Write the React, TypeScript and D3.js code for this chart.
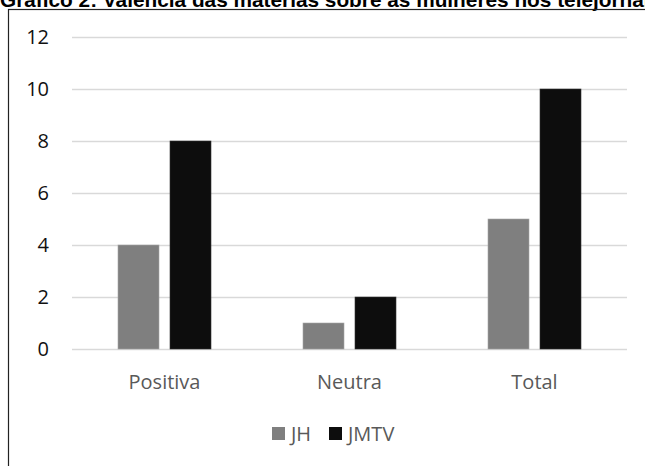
import React from "react";
import * as d3 from "d3";

const categories = ["Positiva", "Neutra", "Total"];
const seriesNames = ["JH", "JMTV"];
const jhValues = [4, 1, 5];
const jmtvValues = [8, 2, 10];
const yTicks = [0, 2, 4, 6, 8, 10, 12];
const title = "Gráfico 2: Valência das matérias sobre as mulheres nos telejornais";

const colors = ["#7f7f7f", "#0d0d0d"];

export default function App() {
  const W = 645, H = 466;
  const x0 = d3.scaleBand().domain(categories).range([72, 627]).paddingInner(0).paddingOuter(0);
  const y = d3.scaleLinear().domain([0, 12]).range([349, 37]);
  const barW = 41, gap = 11;
  const series = [jhValues, jmtvValues];
  const font = "'Open Sans', sans-serif";
  return (
    <svg width={W} height={H} style={{ position: "absolute", left: 0, top: 0, background: "#fff" }}>
      <rect x={0} y={0} width={W} height={H} fill="#fff" />
      <text x={0} y={7} fontFamily="'Liberation Sans', Arial, sans-serif" fontWeight="bold" fontSize={20.8} fill="#000">{title}</text>
      <rect x={8.5} y={9.5} width={700} height={500} fill="none" stroke="#222" strokeWidth={1.2} />
      {yTicks.map(t => (
        <g key={t}>
          <line x1={72} x2={627} y1={y(t) + 0.5} y2={y(t) + 0.5} stroke="#d9d9d9" strokeWidth={1.5} />
          <text x={49} y={y(t)} dy="0.36em" textAnchor="end" fontFamily={font} fontSize={20} fill="#111">{t}</text>
        </g>
      ))}
      {categories.map((c, i) => {
        const cx = (x0(c) as number) + x0.bandwidth() / 2;
        return (
          <g key={c}>
            {series.map((vals, s) => {
              const bx = s === 0 ? cx - gap / 2 - barW : cx + gap / 2;
              return (
                <rect key={s} x={bx} y={y(vals[i])} width={barW} height={y(0) - y(vals[i])}
                  fill={colors[s]} stroke={s === 0 ? "#a6a6a6" : "#333"} strokeWidth={0.6} />
              );
            })}
            <text x={cx} y={382} dy="0.36em" textAnchor="middle" fontFamily={font} fontSize={20} fill="#595959">{c}</text>
          </g>
        );
      })}
      {seriesNames.map((n, s) => {
        const lx = s === 0 ? 272 : 329;
        return (
          <g key={n}>
            <rect x={lx} y={427} width={13} height={13} fill={colors[s]} />
            <text x={lx + 19} y={434} dy="0.36em" fontFamily={font} fontSize={20} fill="#595959">{n}</text>
          </g>
        );
      })}
    </svg>
  );
}
